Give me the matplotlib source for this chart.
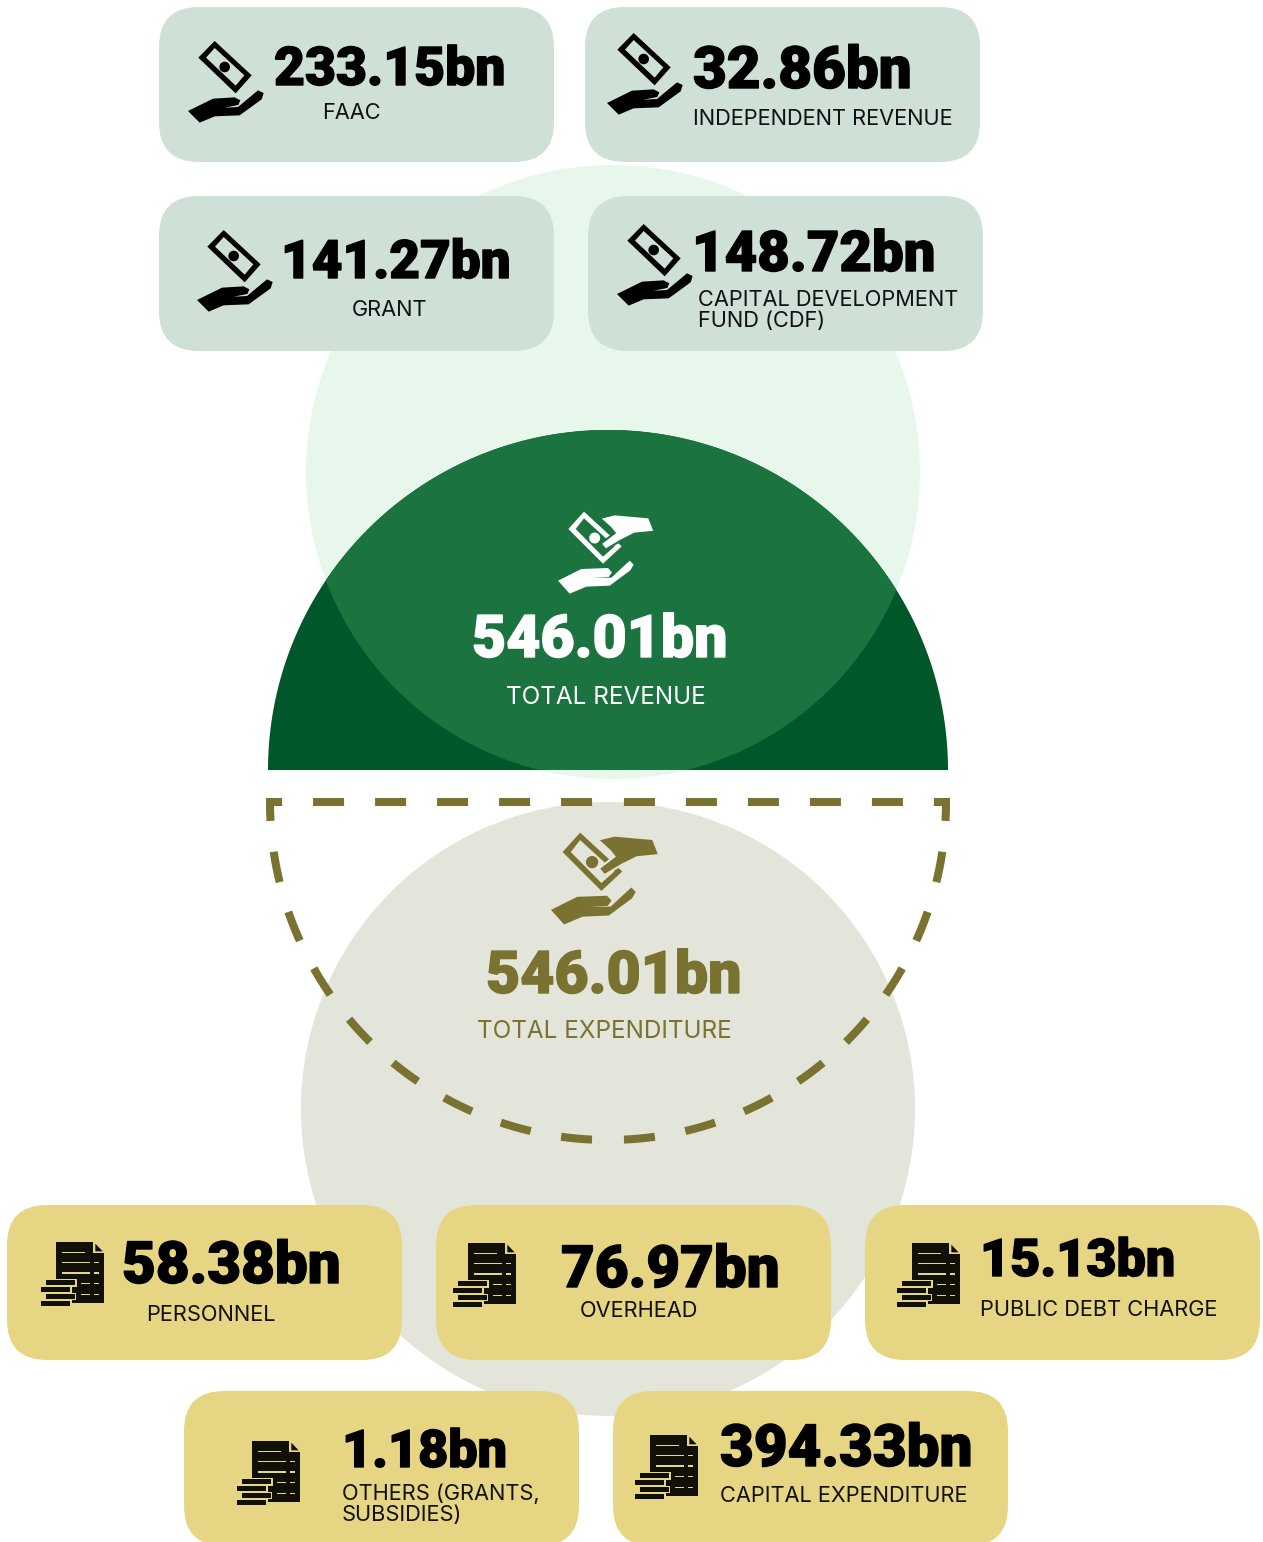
import numpy as np
import matplotlib
matplotlib.use('Agg')
import matplotlib.pyplot as plt
import matplotlib.patheffects as pe
from matplotlib.patches import Circle, FancyBboxPatch, Polygon, PathPatch
from matplotlib.path import Path

# Werte aus dem Bild
revenue_labels = ['FAAC', 'INDEPENDENT REVENUE', 'GRANT', 'CAPITAL DEVELOPMENT\nFUND (CDF)']
revenue_values = ['233.15bn', '32.86bn', '141.27bn', '148.72bn']
spend_labels = ['PERSONNEL', 'OVERHEAD', 'PUBLIC DEBT CHARGE', 'OTHERS (GRANTS,\nSUBSIDIES)', 'CAPITAL EXPENDITURE']
spend_values = ['58.38bn', '76.97bn', '15.13bn', '1.18bn', '394.33bn']
total_revenue = '546.01bn'
total_spend = '546.01bn'

# Layout in Pixeln: Karte x, y / Icon x, y / Wert x, Grundlinie / Label x, Grundlinie
rev_cards = [(159, 7), (585, 7), (159, 196), (588, 196)]
rev_icons = [(188, 41), (607, 33), (197, 230), (617, 224)]
rev_val_pos = [(274, 85), (693, 88), (281, 278), (692, 271)]
rev_val_size = [38.5, 42, 38.2, 40.5]
rev_lab_pos = [(322, 119), (693, 125), (352, 316), (698, 327)]
spend_cards = [(7, 1205), (436, 1205), (865, 1205), (184, 1391), (613, 1391)]
spend_icons = [(41, 1242), (453, 1243), (897, 1243), (237, 1441), (635, 1435)]
spend_val_pos = [(122, 1283), (561, 1287), (980, 1276), (342, 1467), (720, 1466)]
spend_val_size = [42, 42, 37.5, 37.5, 42]
spend_lab_pos = [(146, 1321), (580, 1317), (980, 1316), (342, 1521), (720, 1502)]

GREEN_CARD = '#cfe0d7'
YELLOW_CARD = '#e6d684'
DARK = '#00582a'
MID = '#1b733f'
PALE = '#e8f7ec'
OLIVE = '#7a7230'
STONE = '#e4e5da'

W, H = 1263, 1542
fig = plt.figure(figsize=(W / 100, H / 100), dpi=100)
ax = fig.add_axes([0, 0, 1, 1])
ax.set_xlim(0, W)
ax.set_ylim(H, 0)
ax.axis('off')

BIG = dict(family=['Roboto', 'DejaVu Sans'], fontweight=900)
SMALL = dict(family=['Inter', 'DejaVu Sans'], fontweight=400)


def card(x, y, color):
    ax.add_patch(FancyBboxPatch((x + 40, y + 40), 315, 75,
                                boxstyle='round,pad=40,rounding_size=40',
                                fc=color, ec='none', zorder=3))


def big(x, y, s, color='black', size=40):
    t = ax.text(x, y, s, fontsize=size, color=color, ha='left', va='baseline', zorder=6, **BIG)
    # etwas fetter, das Original ist sehr schwer
    t.set_path_effects([pe.withStroke(linewidth=1.0, foreground=color)])


def small(x, y, s, color='#111111', size=15.7):
    ax.text(x, y, s, fontsize=size, color=color, ha='left', va='baseline',
            linespacing=1.04, zorder=6, **SMALL)


def poly(pts, ox, oy, org, scale, color, ec='none', lw=0, z=5):
    pts = np.array(pts, dtype=float)
    pts = (pts - org) / 3 * scale + (ox, oy)
    ax.add_patch(Polygon(pts, closed=True, fc=color, ec=ec, lw=lw, zorder=z))


def hand_money(ox, oy, color='black'):
    org = (85, 122)
    outer = np.array([(165, 122), (276, 225), (228, 279), (116, 172)], float)
    inner = np.array([(165, 143), (254, 225), (228, 256), (139, 172)], float)
    verts = np.vstack([outer, outer[:1], inner[::-1], inner[-1:]])
    verts = (verts - org) / 3 + (ox, oy)
    codes = [Path.MOVETO, Path.LINETO, Path.LINETO, Path.LINETO, Path.CLOSEPOLY] * 2
    ax.add_patch(PathPatch(Path(verts, codes), fc=color, ec='none', zorder=5))
    ax.add_patch(Circle(((195 - 85) / 3 + ox, (200 - 122) / 3 + oy), 5.3, fc=color, ec='none', zorder=5))
    poly([(85, 332), (160, 295), (225, 291), (242, 300), (236, 314), (195, 322), (235, 320),
          (295, 270), (312, 278), (306, 297), (240, 345), (165, 348), (120, 367)],
         ox, oy, org, 1, color)


def two_hands(ox, oy, color, bg, scale=1.0):
    org = (55, 37)
    outer = np.array([(133, 36), (246, 140), (190, 192), (86, 88)], float)
    inner = np.array([(133, 56), (225, 140), (190, 171), (108, 88)], float)
    verts = np.vstack([outer, outer[:1], inner[::-1], inner[-1:]])
    verts = (verts - org) / 3 * scale + (ox, oy)
    codes = [Path.MOVETO, Path.LINETO, Path.LINETO, Path.LINETO, Path.CLOSEPOLY] * 2
    ax.add_patch(PathPatch(Path(verts, codes), fc=color, ec='none', zorder=5))
    ax.add_patch(Circle(((165 - 55) / 3 * scale + ox, (115 - 37) / 3 * scale + oy), 5.5 * scale,
                        fc=color, ec='none', zorder=5))
    # obere Hand liegt auf dem Schein
    poly([(180, 55), (225, 44), (328, 53), (345, 96), (285, 102), (245, 122), (198, 150),
          (183, 132), (225, 100), (213, 85)], ox, oy, org, scale, color, ec=bg, lw=1.5, z=5.5)
    poly([(55, 243), (125, 208), (205, 205), (217, 218), (207, 232), (158, 235), (215, 234),
          (270, 183), (282, 195), (272, 212), (210, 258), (140, 261), (90, 282)],
         ox, oy, org, scale, color)


def doc_stack(ox, oy, bg):
    org = (62, 65)
    c = '#111008'
    poly([(108, 65), (218, 65), (218, 97), (250, 97), (250, 248), (155, 248), (155, 200),
          (170, 200), (170, 175), (108, 175)], ox, oy, org, 1, c)
    poly([(225, 70), (247, 93), (225, 93)], ox, oy, org, 1, c)
    strokes = [(125, 96, 193), (125, 127, 208), (222, 127, 235), (125, 158, 208), (222, 158, 235),
               (183, 190, 208), (222, 190, 235), (183, 222, 208), (222, 222, 235)]
    for x0, yy, x1 in strokes:
        poly([(x0, yy - 2), (x1, yy - 2), (x1, yy + 2), (x0, yy + 2)], ox, oy, org, 1, bg, z=5.2)
    for x0, y0, x1, y1 in [(78, 178, 165, 194), (62, 200, 148, 216), (78, 221, 165, 237), (62, 241, 148, 257)]:
        poly([(x0 - 3, y0 - 3), (x1 + 3, y0 - 3), (x1 + 3, y1 + 3), (x0 - 3, y1 + 3)], ox, oy, org, 1, bg, z=5.3)
        poly([(x0, y0), (x1, y0), (x1, y1), (x0, y1)], ox, oy, org, 1, c, z=5.4)


# Kreise oben: heller Kreis, Halbkreis, Schnittfläche
ax.add_patch(Circle((613, 472), 307, fc=PALE, ec='none', zorder=1))
theta = np.linspace(np.pi, 2 * np.pi, 300)
half = np.column_stack([608 + 340 * np.cos(theta), 770 + 340 * np.sin(theta)])
half_patch = Polygon(half, closed=True, fc=DARK, ec='none', zorder=2)
ax.add_patch(half_patch)
overlap = Circle((613, 472), 307, fc=MID, ec='none', zorder=2.5)
ax.add_patch(overlap)
overlap.set_clip_path(half_patch)

# Kreis unten und gestrichelter Halbkreis
ax.add_patch(Circle((608, 1109), 307, fc=STONE, ec='none', zorder=1))
for sign in (-1, 1):
    t = np.linspace(0, np.pi / 2, 200)
    xs = 608 + sign * 338 * np.sin(t)
    ys = 802 + 338 * np.cos(t)
    xs = np.append(xs, 608)
    ys = np.append(ys, 802)
    lw = 5.8
    px = 72 / 100 / lw
    ax.plot(xs, ys, color=OLIVE, lw=lw, solid_capstyle='butt', dash_capstyle='butt', dash_joinstyle='miter',
            linestyle=(46 * px, (31 * px, 31 * px)), zorder=2)

# Karten
for i in range(4):
    card(*rev_cards[i], GREEN_CARD)
    hand_money(*rev_icons[i])
    big(*rev_val_pos[i], revenue_values[i], size=rev_val_size[i])
    small(*rev_lab_pos[i], revenue_labels[i])
for i in range(5):
    card(*spend_cards[i], YELLOW_CARD)
    doc_stack(*spend_icons[i], YELLOW_CARD)
    big(*spend_val_pos[i], spend_values[i], size=spend_val_size[i])
    small(*spend_lab_pos[i], spend_labels[i])

# Summen in der Mitte
two_hands(558, 512, 'white', MID)
big(472, 657, total_revenue, 'white', 42.5)
small(506, 704, 'TOTAL REVENUE', 'white', 17.5)
two_hands(551, 833, OLIVE, STONE, 1.12)
big(486, 993, total_spend, OLIVE, 42.5)
small(477, 1038, 'TOTAL EXPENDITURE', OLIVE, 17.5)

plt.savefig('out.png', dpi=100)
plt.close()
